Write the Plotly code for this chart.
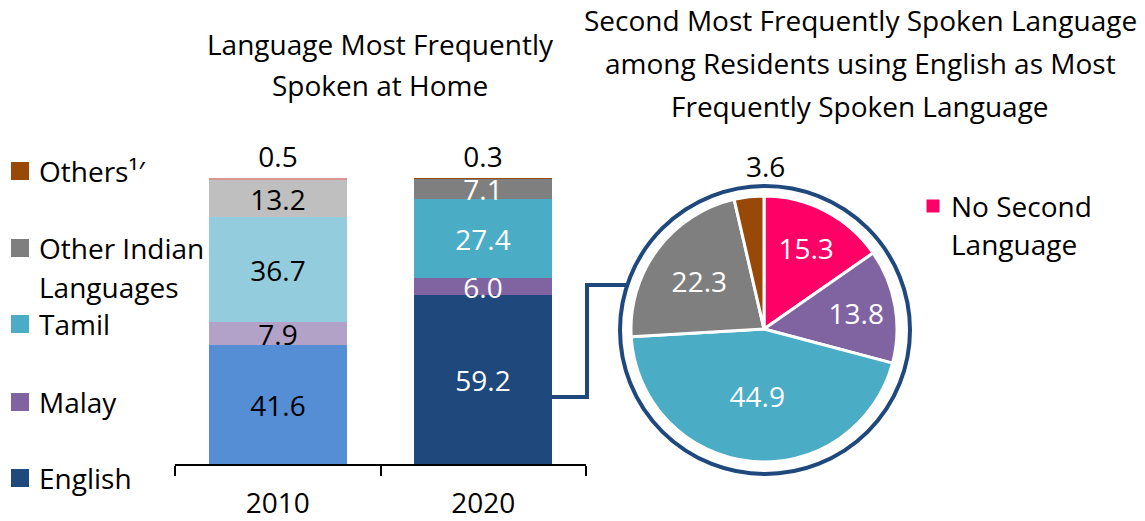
import plotly.graph_objects as go

# ---- data ----
years = ["2010", "2020"]
english = [41.6, 59.2]
malay = [7.9, 6.0]
tamil = [36.7, 27.4]
other_indian = [13.2, 7.1]
others = [0.5, 0.3]

pie_labels = ["No Second Language", "Malay", "Tamil", "Other Indian Languages", "Others"]
pie_values = [15.3, 13.8, 44.9, 22.3, 3.6]

legend_labels = ["Others\u00b9\u2032", "Other Indian<br>Languages", "Tamil", "Malay", "English"]

# ---- styling ----
W, H = 1145, 521
FONT = "Open Sans"
FS = 28
NAVY = "#1F497D"

series = [
    ("English", english, ["#558ED5", "#1F497D"]),
    ("Malay", malay, ["#B3A2C7", "#8064A2"]),
    ("Tamil", tamil, ["#93CDDD", "#4BACC6"]),
    ("Other Indian Languages", other_indian, ["#BFBFBF", "#7F7F7F"]),
    ("Others", others, ["#D99694", "#984807"]),
]
pie_colors = ["#FF0066", "#8064A2", "#4BACC6", "#7F7F7F", "#984807"]


def px(x):
    return x / W


def py(y):
    return 1 - y / H


fig = go.Figure()

for name, vals, cols in series:
    is_top = name == "Others"
    fig.add_trace(go.Bar(
        x=years, y=vals, name=name,
        marker=dict(color=cols, line=dict(width=0)),
        width=0.67,
        text=[f"{v:.1f}" for v in vals],
        textposition="outside" if is_top else "inside",
        insidetextanchor="middle",
        constraintext="none",
        textangle=0,
        textfont=dict(family=FONT, size=FS,
                      color=["black", "black"] if is_top else ["black", "white"]),
        cliponaxis=False,
        showlegend=False,
        hoverinfo="skip",
    ))

# pie: the smallest slice gets its label outside the ring
pie_text = [f"{v:.1f}" if v >= 5 else "" for v in pie_values]
fig.add_trace(go.Pie(
    labels=pie_labels, values=pie_values,
    text=pie_text, textinfo="text",
    textposition="inside", insidetextorientation="horizontal",
    insidetextfont=dict(family=FONT, size=FS, color="white"),
    marker=dict(colors=pie_colors, line=dict(color="white", width=3)),
    sort=False, direction="clockwise", rotation=0,
    domain=dict(x=[px(631), px(897)], y=[py(462), py(196)]),
    showlegend=False, hoverinfo="skip",
))

annotations = []


def label(x, y, text, size=FS, anchor="center"):
    annotations.append(dict(
        x=px(x), y=py(y), xref="paper", yref="paper", text=text,
        showarrow=False, xanchor=anchor, yanchor="middle",
        font=dict(family=FONT, size=size, color="black"),
    ))


# titles
label(380, 44, "Language Most Frequently")
label(380, 85, "Spoken at Home")
label(860, 20, "Second Most Frequently Spoken Language")
label(860, 63, "among Residents using English as Most")
label(860, 106, "Frequently Spoken Language")

# small pie slice value
label(765, 166, f"{pie_values[-1]:.1f}")

shapes = []


def square(cx, cy, size, color):
    shapes.append(dict(
        type="rect", xref="paper", yref="paper",
        x0=px(cx - size / 2), x1=px(cx + size / 2),
        y0=py(cy + size / 2), y1=py(cy - size / 2),
        fillcolor=color, line=dict(width=0),
    ))


# left legend (top to bottom)
legend_rows = [171, 248, 324, 402, 478]
legend_cols = ["#984807", "#7F7F7F", "#4BACC6", "#8064A2", "#1F497D"]
for txt, yy, col in zip(legend_labels, legend_rows, legend_cols):
    square(20, yy, 18, col)
    if "<br>" in txt:
        first, second = txt.split("<br>")
        label(37, yy, first, anchor="left")
        label(37, yy + 39, second, anchor="left")
    else:
        label(37, yy, txt, anchor="left")

# pie legend
square(933, 206, 13, pie_colors[0])
label(949, 206, "No Second", anchor="left")
label(949, 244, "Language", anchor="left")

# ring around the pie
shapes.append(dict(
    type="circle", xref="paper", yref="paper",
    x0=px(620), x1=px(910), y0=py(474), y1=py(186),
    line=dict(color=NAVY, width=4), fillcolor="rgba(0,0,0,0)",
))
# connector from the 2020 English bar to the pie
shapes.append(dict(
    type="path", xref="paper", yref="paper",
    path=(f"M {px(552)} {py(397)} L {px(587)} {py(397)} "
          f"L {px(587)} {py(285)} L {px(627)} {py(285)}"),
    line=dict(color=NAVY, width=4),
))

fig.update_layout(
    width=W, height=H,
    margin=dict(l=0, r=0, t=0, b=0),
    paper_bgcolor="white", plot_bgcolor="white",
    barmode="stack",
    bargap=0,
    xaxis=dict(
        type="category", range=[-0.5, 1.5],
        domain=[px(175), px(586)],
        tickson="boundaries", ticks="outside", ticklen=10, tickwidth=2,
        tickcolor="black", showline=True, linewidth=2, linecolor="black",
        showgrid=False, zeroline=False,
        tickfont=dict(family=FONT, size=FS, color="black"),
        ticklabelstandoff=13,
        automargin=False, fixedrange=True,
    ),
    yaxis=dict(
        range=[0, 100], domain=[py(464), py(178)],
        visible=False, showgrid=False, zeroline=False,
        automargin=False, fixedrange=True,
    ),
    annotations=annotations,
    shapes=shapes,
    font=dict(family=FONT),
)

fig.write_html("out.html")
